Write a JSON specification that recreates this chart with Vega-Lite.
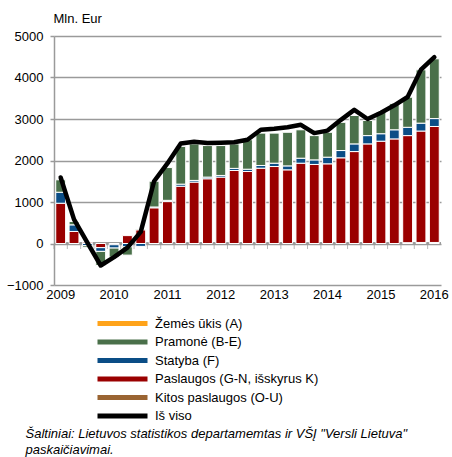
{
  "$schema": "https://vega.github.io/schema/vega-lite/v6.json",
  "width": 387,
  "height": 249,
  "autosize": {"type": "none"},
  "padding": {"left": 54, "top": 36, "right": 11, "bottom": 172},
  "background": "white",
  "config": {"font": "Liberation Sans", "view": {"stroke": null}},
  "datasets": {
    "bars": [
      {"q":"2009Q1","s":"Paslaugos (G-N, išskyrus K)","v":970},{"q":"2009Q1","s":"Statyba (F)","v":265},{"q":"2009Q1","s":"Pramonė (B-E)","v":300},
      {"q":"2009Q2","s":"Paslaugos (G-N, išskyrus K)","v":290},{"q":"2009Q2","s":"Statyba (F)","v":160},{"q":"2009Q2","s":"Pramonė (B-E)","v":80},
      {"q":"2009Q3","s":"Paslaugos (G-N, išskyrus K)","v":30},{"q":"2009Q3","s":"Statyba (F)","v":-50},{"q":"2009Q3","s":"Pramonė (B-E)","v":-40},
      {"q":"2009Q4","s":"Paslaugos (G-N, išskyrus K)","v":-100},{"q":"2009Q4","s":"Statyba (F)","v":-90},{"q":"2009Q4","s":"Pramonė (B-E)","v":-340},
      {"q":"2010Q1","s":"Paslaugos (G-N, išskyrus K)","v":-30},{"q":"2010Q1","s":"Statyba (F)","v":-80},{"q":"2010Q1","s":"Pramonė (B-E)","v":-220},
      {"q":"2010Q2","s":"Paslaugos (G-N, išskyrus K)","v":190},{"q":"2010Q2","s":"Statyba (F)","v":-80},{"q":"2010Q2","s":"Pramonė (B-E)","v":-200},
      {"q":"2010Q3","s":"Paslaugos (G-N, išskyrus K)","v":330},{"q":"2010Q3","s":"Statyba (F)","v":-70},{"q":"2010Q3","s":"Pramonė (B-E)","v":20},
      {"q":"2010Q4","s":"Paslaugos (G-N, išskyrus K)","v":860},{"q":"2010Q4","s":"Statyba (F)","v":20},{"q":"2010Q4","s":"Pramonė (B-E)","v":620},
      {"q":"2011Q1","s":"Paslaugos (G-N, išskyrus K)","v":1010},{"q":"2011Q1","s":"Statyba (F)","v":30},{"q":"2011Q1","s":"Pramonė (B-E)","v":790},
      {"q":"2011Q2","s":"Paslaugos (G-N, išskyrus K)","v":1380},{"q":"2011Q2","s":"Statyba (F)","v":50},{"q":"2011Q2","s":"Pramonė (B-E)","v":910},
      {"q":"2011Q3","s":"Paslaugos (G-N, išskyrus K)","v":1480},{"q":"2011Q3","s":"Statyba (F)","v":40},{"q":"2011Q3","s":"Pramonė (B-E)","v":880},
      {"q":"2011Q4","s":"Paslaugos (G-N, išskyrus K)","v":1560},{"q":"2011Q4","s":"Statyba (F)","v":40},{"q":"2011Q4","s":"Pramonė (B-E)","v":760},
      {"q":"2012Q1","s":"Paslaugos (G-N, išskyrus K)","v":1600},{"q":"2012Q1","s":"Statyba (F)","v":40},{"q":"2012Q1","s":"Pramonė (B-E)","v":720},
      {"q":"2012Q2","s":"Paslaugos (G-N, išskyrus K)","v":1760},{"q":"2012Q2","s":"Statyba (F)","v":50},{"q":"2012Q2","s":"Pramonė (B-E)","v":590},
      {"q":"2012Q3","s":"Paslaugos (G-N, išskyrus K)","v":1735},{"q":"2012Q3","s":"Statyba (F)","v":55},{"q":"2012Q3","s":"Pramonė (B-E)","v":710},
      {"q":"2012Q4","s":"Paslaugos (G-N, išskyrus K)","v":1815},{"q":"2012Q4","s":"Statyba (F)","v":65},{"q":"2012Q4","s":"Pramonė (B-E)","v":780},
      {"q":"2013Q1","s":"Paslaugos (G-N, išskyrus K)","v":1855},{"q":"2013Q1","s":"Statyba (F)","v":80},{"q":"2013Q1","s":"Pramonė (B-E)","v":725},
      {"q":"2013Q2","s":"Paslaugos (G-N, išskyrus K)","v":1775},{"q":"2013Q2","s":"Statyba (F)","v":95},{"q":"2013Q2","s":"Pramonė (B-E)","v":810},
      {"q":"2013Q3","s":"Paslaugos (G-N, išskyrus K)","v":1935},{"q":"2013Q3","s":"Statyba (F)","v":120},{"q":"2013Q3","s":"Pramonė (B-E)","v":685},
      {"q":"2013Q4","s":"Paslaugos (G-N, išskyrus K)","v":1905},{"q":"2013Q4","s":"Statyba (F)","v":110},{"q":"2013Q4","s":"Pramonė (B-E)","v":585},
      {"q":"2014Q1","s":"Paslaugos (G-N, išskyrus K)","v":1920},{"q":"2014Q1","s":"Statyba (F)","v":160},{"q":"2014Q1","s":"Pramonė (B-E)","v":600},
      {"q":"2014Q2","s":"Paslaugos (G-N, išskyrus K)","v":2065},{"q":"2014Q2","s":"Statyba (F)","v":175},{"q":"2014Q2","s":"Pramonė (B-E)","v":680},
      {"q":"2014Q3","s":"Paslaugos (G-N, išskyrus K)","v":2215},{"q":"2014Q3","s":"Statyba (F)","v":185},{"q":"2014Q3","s":"Pramonė (B-E)","v":685},
      {"q":"2014Q4","s":"Paslaugos (G-N, išskyrus K)","v":2400},{"q":"2014Q4","s":"Statyba (F)","v":200},{"q":"2014Q4","s":"Pramonė (B-E)","v":365},
      {"q":"2015Q1","s":"Paslaugos (G-N, išskyrus K)","v":2465},{"q":"2015Q1","s":"Statyba (F)","v":180},{"q":"2015Q1","s":"Pramonė (B-E)","v":520},
      {"q":"2015Q2","s":"Paslaugos (G-N, išskyrus K)","v":2520},{"q":"2015Q2","s":"Statyba (F)","v":220},{"q":"2015Q2","s":"Pramonė (B-E)","v":630},
      {"q":"2015Q3","s":"Kitos paslaugos (O-U)","v":20},{"q":"2015Q3","s":"Paslaugos (G-N, išskyrus K)","v":2580},{"q":"2015Q3","s":"Statyba (F)","v":200},{"q":"2015Q3","s":"Pramonė (B-E)","v":725},
      {"q":"2015Q4","s":"Kitos paslaugos (O-U)","v":25},{"q":"2015Q4","s":"Paslaugos (G-N, išskyrus K)","v":2685},{"q":"2015Q4","s":"Statyba (F)","v":190},{"q":"2015Q4","s":"Pramonė (B-E)","v":1285},
      {"q":"2016Q1","s":"Kitos paslaugos (O-U)","v":25},{"q":"2016Q1","s":"Paslaugos (G-N, išskyrus K)","v":2795},{"q":"2016Q1","s":"Statyba (F)","v":190},{"q":"2016Q1","s":"Pramonė (B-E)","v":1440}
    ],
    "total": [
      {"q":"2009Q1","v":1590},{"q":"2009Q2","v":580},{"q":"2009Q3","v":20},{"q":"2009Q4","v":-530},
      {"q":"2010Q1","v":-330},{"q":"2010Q2","v":-100},{"q":"2010Q3","v":280},{"q":"2010Q4","v":1500},
      {"q":"2011Q1","v":1930},{"q":"2011Q2","v":2410},{"q":"2011Q3","v":2450},{"q":"2011Q4","v":2420},
      {"q":"2012Q1","v":2430},{"q":"2012Q2","v":2440},{"q":"2012Q3","v":2500},{"q":"2012Q4","v":2740},
      {"q":"2013Q1","v":2765},{"q":"2013Q2","v":2800},{"q":"2013Q3","v":2860},{"q":"2013Q4","v":2660},
      {"q":"2014Q1","v":2720},{"q":"2014Q2","v":2980},{"q":"2014Q3","v":3220},{"q":"2014Q4","v":3000},
      {"q":"2015Q1","v":3150},{"q":"2015Q2","v":3330},{"q":"2015Q3","v":3530},{"q":"2015Q4","v":4190},
      {"q":"2016Q1","v":4490}
    ]
  },
  "layer": [
    {
      "data": {"name": "total"},
      "mark": {"type": "rule", "color": "#9a9a9a", "strokeWidth": 1.5},
      "encoding": {"y": {"datum": 0, "type": "quantitative"}}
    },
    {
      "data": {"name": "total"},
      "mark": {"type": "tick", "orient": "vertical", "color": "#9a9a9a", "size": 5, "thickness": 1, "yOffset": 3, "xOffset": -6.7},
      "encoding": {
        "x": {"field": "q", "type": "ordinal"},
        "y": {"datum": 0, "type": "quantitative"}
      }
    },
    {
      "data": {"name": "bars"},
      "transform": [
        {"calculate": "indexof(['Kitos paslaugos (O-U)','Paslaugos (G-N, išskyrus K)','Statyba (F)','Pramonė (B-E)','Žemės ūkis (A)'], datum.s)", "as": "stackorder"}
      ],
      "mark": {"type": "bar", "stroke": "white", "strokeWidth": 1},
      "encoding": {
        "x": {
          "field": "q", "type": "ordinal",
          "scale": {"paddingInner": 0.26, "paddingOuter": 0.13},
          "axis": {
            "title": ["Šaltiniai: Lietuvos statistikos departamemtas ir VŠĮ \"Versli Lietuva\"", "paskaičiavimai."],
            "titleFontStyle": "italic", "titleFontSize": 13, "titleFontWeight": "normal", "titleColor": "#000",
            "titleAlign": "left", "titleAnchor": "start", "titleBaseline": "top", "titleLineHeight": 16,
            "titleX": -29, "titleY": 142,
            "labelAngle": 0, "labelAlign": "center", "bandPosition": 0.5,
            "domain": false, "ticks": false, "grid": false,
            "labelExpr": "slice(datum.value, 4) == 'Q1' ? slice(datum.value, 0, 4) : ''",
            "labelFontSize": 13, "labelColor": "#000", "labelPadding": 9, "labelOverlap": false
          }
        },
        "y": {
          "field": "v", "type": "quantitative", "stack": "zero",
          "scale": {"domain": [-1000, 5000], "nice": false},
          "axis": {
            "values": [-1000, -500, 0, 500, 1000, 1500, 2000, 2500, 3000, 3500, 4000, 4500, 5000],
            "format": "d",
            "title": "Mln. Eur", "titleAngle": 0, "titleAlign": "left", "titleBaseline": "alphabetic",
            "titleX": -1, "titleY": -14, "titleFontSize": 13, "titleFontWeight": "normal", "titleColor": "#000",
            "labelFontSize": 13, "labelColor": "#000", "labelPadding": 7,
            "tickSize": 4, "tickColor": "#9a9a9a", "tickWidth": 1.5,
            "domainColor": "#9a9a9a", "domainWidth": 1.5,
            "grid": true, "gridColor": "#9a9a9a", "gridWidth": 1.5
          }
        },
        "color": {
          "field": "s", "type": "nominal",
          "scale": {
            "domain": ["Žemės ūkis (A)", "Pramonė (B-E)", "Statyba (F)", "Paslaugos (G-N, išskyrus K)", "Kitos paslaugos (O-U)", "Iš viso"],
            "range": ["#FFA31A", "#4A704A", "#0A4D86", "#9A0000", "#9A6432", "#000000"]
          },
          "legend": {
            "orient": "none", "legendX": 36, "legendY": 280, "direction": "vertical", "title": null,
            "symbolType": "M-5,0H5", "symbolSize": 100, "symbolOffset": 25, "labelOffset": 25,
            "symbolStrokeWidth": 5, "labelLimit": 400,
            "labelFontSize": 13, "labelColor": "#000", "rowPadding": -2.5,
            "encode": {
              "symbols": {"update": {"stroke": {"scale": "color", "field": "value"}, "fill": {"value": "transparent"}}}
            }
          }
        },
        "order": {"field": "stackorder"}
      }
    },
    {
      "data": {"name": "total"},
      "mark": {"type": "line", "strokeWidth": 4.5, "strokeJoin": "round", "strokeCap": "round"},
      "encoding": {
        "x": {"field": "q", "type": "ordinal"},
        "y": {"field": "v", "type": "quantitative"},
        "color": {"datum": "Iš viso"}
      }
    }
  ]
}
